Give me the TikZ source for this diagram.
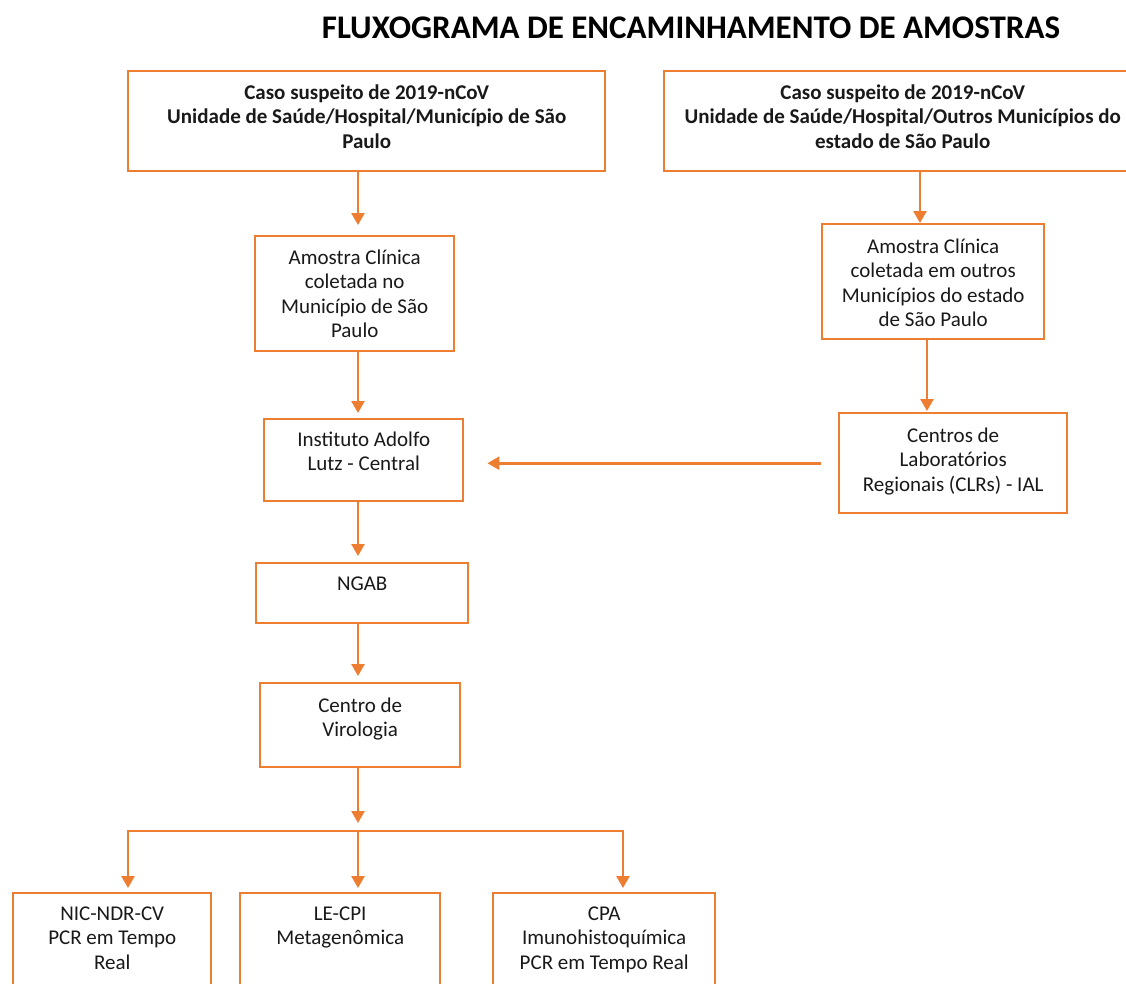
\documentclass[tikz,border=0pt]{standalone}
\usepackage{fontspec}
\setmainfont{Carlito}
\usetikzlibrary{arrows.meta}
\definecolor{flowor}{HTML}{ED7D31}
\newcommand\bxt[4]{\parbox[c][#2pt][t]{#1pt}{\centering\vspace*{#3pt}\strut #4}}
\tikzset{
  box/.style={draw=flowor, line width=2.4pt, inner sep=0pt, anchor=north west, text=black!90, font=\fontsize{21}{24.5}\selectfont},
  boldbox/.style={box, font=\fontsize{21}{24.5}\selectfont\bfseries},
  arr/.style={draw=flowor, line width=2.6pt, -{Triangle[length=12pt,width=13pt]}},
  plain/.style={draw=flowor, line width=2.6pt}
}
\begin{document}
\begin{tikzpicture}[x=1pt,y=-1pt]
\useasboundingbox[fill=white] (0,0) rectangle (1126,983);
\node[font=\fontsize{33}{38}\selectfont\bfseries, anchor=base] (title) at (691,38) {FLUXOGRAMA DE ENCAMINHAMENTO DE AMOSTRAS};
\node[boldbox] (c1) at (127,70) {\bxt{477}{100}{11}{Caso suspeito de 2019-nCoV\\Unidade de Saúde/Hospital/Município de São\\Paulo}};
\node[boldbox] (c2) at (663,70) {\bxt{477}{100}{11}{Caso suspeito de 2019-nCoV\\Unidade de Saúde/Hospital/Outros Municípios do\\estado de São Paulo}};
\node[box] (a1) at (254,235) {\bxt{199}{115}{11}{Amostra Clínica\\coletada no\\Município de São\\Paulo}};
\node[box] (a2) at (821,223) {\bxt{222}{115}{12}{Amostra Clínica\\coletada em outros\\Municípios do estado\\de São Paulo}};
\node[box] (clr) at (838,412) {\bxt{228}{100}{12}{Centros de\\Laboratórios\\Regionais (CLRs) - IAL}};
\node[box] (ial) at (263,418) {\bxt{199}{82}{10}{Instituto Adolfo\\Lutz - Central}};
\node[box] (ngab) at (255,562) {\bxt{212}{60}{10}{NGAB}};
\node[box] (vir) at (259,682) {\bxt{200}{84}{12}{Centro de\\Virologia}};
\node[box] (p1) at (12,892) {\bxt{198}{110}{10}{NIC-NDR-CV\\PCR em Tempo\\Real}};
\node[box] (p2) at (239,892) {\bxt{200}{110}{10}{LE-CPI\\Metagenômica}};
\node[box] (p3) at (492,892) {\bxt{222}{110}{10}{CPA\\Imunohistoquímica\\PCR em Tempo Real}};
\coordinate (ax) at (358,0);
\coordinate (bx) at (920,0);
\coordinate (cx) at (927,0);
\coordinate (jl) at (128,831);
\coordinate (jm) at (358,831);
\coordinate (jr) at (623,831);
\draw[arr, shorten >=10pt] (c1.south -| ax) -- (a1.north -| ax);
\draw[arr] (c2.south -| bx) -- (a2.north -| bx);
\draw[arr, shorten >=1pt] (a2.south -| cx) -- (clr.north -| cx);
\draw[arr, shorten >=5pt] (a1.south -| ax) -- (ial.north -| ax);
\draw[arr, shorten <=17pt, shorten >=23pt] (clr.west) -- (clr.west -| ial.east);
\draw[arr, shorten >=6pt] (ial.south -| ax) -- (ngab.north -| ax);
\draw[arr, shorten >=6pt] (ngab.south -| ax) -- (vir.north -| ax);
\draw[arr, shorten >=8pt] (vir.south -| ax) -- (jm);
\draw[plain, line cap=rect] (jl) -- (jr);
\draw[arr, shorten >=4pt] (jl) -- (jl |- p1.north);
\draw[arr, shorten >=4pt] (jm) -- (jm |- p2.north);
\draw[arr, shorten >=4pt] (jr) -- (jr |- p3.north);
\end{tikzpicture}
\end{document}
